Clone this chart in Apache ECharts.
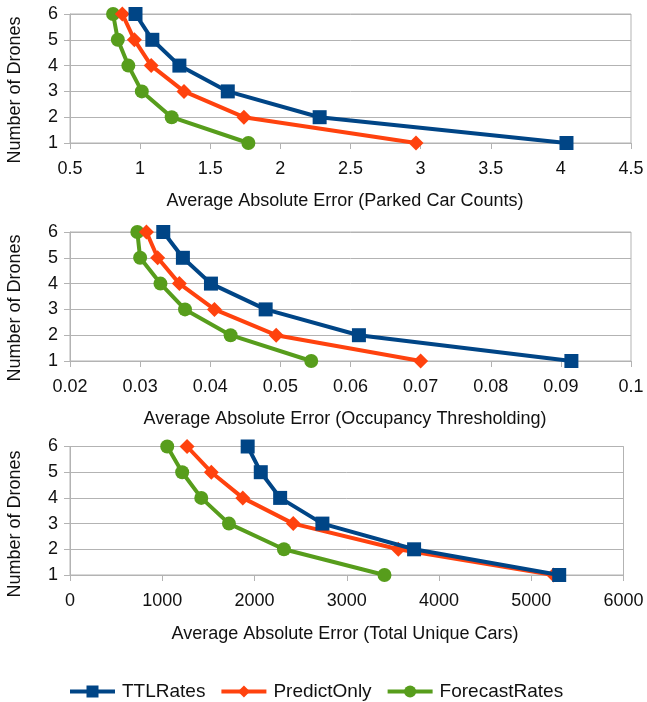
<!DOCTYPE html>
<html>
<head>
<meta charset="utf-8">
<script src="https://cdn.jsdelivr.net/npm/echarts@6/dist/echarts.min.js"></script>
<style>
html,body{margin:0;padding:0;background:#fff;}
#c{width:647px;height:702px;}
</style>
</head>
<body>
<div id="c"></div>
<script>
// ---- data ----
const drones = [1, 2, 3, 4, 5, 6];
const seriesNames = ['TTLRates', 'PredictOnly', 'ForecastRates'];

// Chart 1: Parked Car Counts
const ttlParked = [4.04, 2.28, 1.625, 1.28, 1.087, 0.967];
const predParked = [2.967, 1.74, 1.313, 1.079, 0.959, 0.873];
const foreParked = [1.772, 1.225, 1.012, 0.916, 0.841, 0.807];

// Chart 2: Occupancy Thresholding
const ttlOcc = [0.0915, 0.0612, 0.0479, 0.0401, 0.0361, 0.0333];
const predOcc = [0.070, 0.0494, 0.0406, 0.0356, 0.0325, 0.0309];
const foreOcc = [0.0544, 0.0429, 0.0364, 0.0329, 0.0300, 0.0296];

// Chart 3: Total Unique Cars
const ttlUnique = [5303, 3730, 2736, 2278, 2068, 1926];
const predUnique = [5242, 3559, 2420, 1873, 1532, 1269];
const foreUnique = [3409, 2319, 1723, 1423, 1216, 1054];

const xTitles = [
  'Average Absolute Error (Parked Car Counts)',
  'Average Absolute Error (Occupancy Thresholding)',
  'Average Absolute Error (Total Unique Cars)'
];
const yTitle = 'Number of Drones';

// ---- styles ----
const FONT = 'Liberation Sans, Arial, sans-serif';
const colors = ['#004586', '#ff420e', '#579d1c'];
const symbols = ['rect', 'diamond', 'circle'];
const symbolSizes = [14, [15, 15], 14];
const gridGray = '#b3b3b3';

const grids = [
  {left: 70, right: 16, top: 14, height: 129},
  {left: 70, right: 16, top: 232, height: 129},
  {left: 70, right: 23.5, top: 446.5, height: 128.5}
];
const xRanges = [
  {min: 0.5, max: 4.5, interval: 0.5},
  {min: 0.02, max: 0.1, interval: 0.01},
  {min: 0, max: 6000, interval: 1000}
];
const allData = [
  [ttlParked, predParked, foreParked],
  [ttlOcc, predOcc, foreOcc],
  [ttlUnique, predUnique, foreUnique]
];

const fmt = v => String(parseFloat(v.toPrecision(10)));

const option = {
  animation: false,
  backgroundColor: '#fff',
  textStyle: {fontFamily: FONT},
  legend: {
    data: seriesNames,
    left: 68,
    top: 682,
    padding: 0,
    itemWidth: 45,
    itemHeight: 15,
    itemGap: 14,
    lineStyle: {width: 4},
    textStyle: {fontSize: 19, color: '#111', fontFamily: FONT, padding: [0, 0, 0, 2]}
  },
  grid: grids.map(g => Object.assign({show: true, borderColor: gridGray, borderWidth: 1, backgroundColor: 'transparent'}, g)),
  xAxis: grids.map((g, i) => ({
    type: 'value',
    gridIndex: i,
    min: xRanges[i].min,
    max: xRanges[i].max,
    interval: xRanges[i].interval,
    axisLine: {show: true, lineStyle: {color: gridGray, width: 1}},
    axisTick: {show: true, inside: false, length: 6, lineStyle: {color: gridGray}},
    splitLine: {show: false},
    axisLabel: {fontSize: 18, color: '#111', margin: 17, fontFamily: FONT, formatter: fmt}
  })),
  yAxis: grids.map((g, i) => ({
    type: 'value',
    gridIndex: i,
    min: 1,
    max: 6,
    interval: 1,
    axisLine: {show: true, lineStyle: {color: gridGray, width: 1}},
    axisTick: {show: true, inside: false, length: 6, lineStyle: {color: gridGray}},
    splitLine: {show: true, lineStyle: {color: gridGray, width: 1}},
    axisLabel: {fontSize: 18, color: '#111', margin: 12, fontFamily: FONT, formatter: fmt}
  })),
  series: [],
  graphic: []
};

const zs = [5, 4, 3];
allData.forEach((set, gi) => {
  set.forEach((vals, si) => {
    option.series.push({
      name: seriesNames[si],
      type: 'line',
      xAxisIndex: gi,
      yAxisIndex: gi,
      data: vals.map((v, k) => [v, drones[k]]),
      symbol: symbols[si],
      symbolSize: symbolSizes[si],
      z: zs[si],
      color: colors[si],
      lineStyle: {color: colors[si], width: 4},
      itemStyle: {color: colors[si]}
    });
  });
});

// axis titles
const xTitlePos = [[345, 201], [345, 419], [345, 634]];
const yTitlePos = [[15, 90], [15, 308], [15, 524]];
xTitles.forEach((t, i) => {
  option.graphic.push({
    type: 'text',
    x: xTitlePos[i][0],
    y: xTitlePos[i][1],
    style: {text: t, fontSize: 18, fontFamily: FONT, fill: '#111', align: 'center', verticalAlign: 'middle'}
  });
  option.graphic.push({
    type: 'text',
    x: yTitlePos[i][0],
    y: yTitlePos[i][1],
    rotation: Math.PI / 2,
    style: {text: yTitle, fontSize: 18, fontFamily: FONT, fill: '#111', align: 'center', verticalAlign: 'middle'}
  });
});

const chart = echarts.init(document.getElementById('c'), null, {renderer: 'canvas'});
chart.setOption(option);
</script>
</body>
</html>
